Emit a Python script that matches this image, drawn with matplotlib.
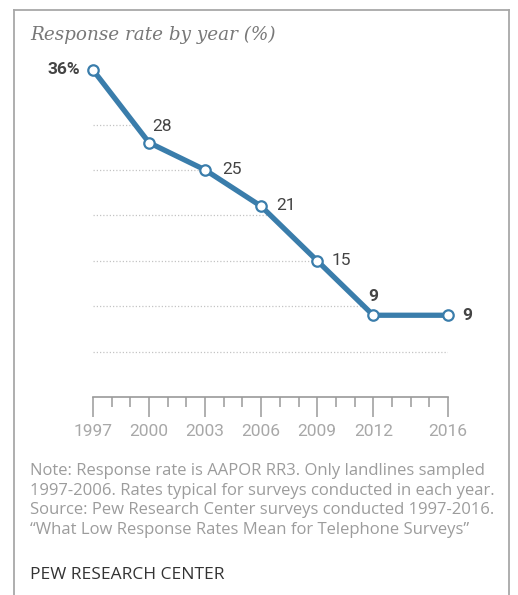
import matplotlib
matplotlib.use("Agg")
import matplotlib.pyplot as plt
from matplotlib.lines import Line2D
from matplotlib.ticker import MultipleLocator

years = [1997, 2000, 2003, 2006, 2009, 2012, 2016]
rates = [36, 28, 25, 21, 15, 9, 9]
labels = ["36%", "28", "25", "21", "15", "9", "9"]
major_ticks = [1997, 2000, 2003, 2006, 2009, 2012, 2016]
grid_levels = [30, 25, 20, 15, 10, 5]

title = "Response rate by year (%)"
note_lines = [
    "Note: Response rate is AAPOR RR3. Only landlines sampled",
    "1997-2006. Rates typical for surveys conducted in each year.",
    "Source: Pew Research Center surveys conducted 1997-2016.",
    "\u201cWhat Low Response Rates Mean for Telephone Surveys\u201d",
]
credit = "PEW RESEARCH CENTER"

W, H = 518, 595
fig = plt.figure(figsize=(W / 100, H / 100), dpi=100)
plt.rcParams['font.family'] = ['Roboto', 'DejaVu Sans']

line_color = '#3a7dab'

x0, x1 = 93, 448
y0, y1 = 397, 70
ax = fig.add_axes([x0 / W, 1 - y0 / H, (x1 - x0) / W, (y0 - y1) / H])
ax.set_xlim(1997, 2016)
ax.set_ylim(0, 36)

# gridlines
for g in grid_levels:
    ax.axhline(g, color='#c4c4c4', lw=0.9, ls=(0, (1, 1.6)), zorder=1)
# mask above the line
ax.fill_between(years, rates, 36, color='white', zorder=1.5, lw=0)

ax.plot(years, rates, color=line_color, lw=3.8, zorder=3, solid_capstyle='round',
        clip_on=False)
ax.plot(years, rates, ls='none', marker='o', ms=7.5, mfc='white', mec=line_color,
        mew=1.6, zorder=4, clip_on=False)

# spines and ticks
for s in ['top', 'right', 'left']:
    ax.spines[s].set_visible(False)
ax.spines['bottom'].set_color('#9a9a9a')
ax.spines['bottom'].set_linewidth(1.2)
ax.set_yticks([])
ax.set_xticks(major_ticks)
ax.set_xticklabels([str(t) for t in major_ticks])
ax.xaxis.set_minor_locator(MultipleLocator(1))
ax.tick_params(axis='x', which='major', direction='out', length=14.5, width=1.1,
               color='#9a9a9a', labelsize=12.5, labelcolor='#a8a8a8', pad=5)
ax.tick_params(axis='x', which='minor', direction='out', length=7.5, width=1.1,
               color='#9a9a9a')
ax.patch.set_visible(False)

# data labels (offsets in pixels)
offsets = [(-13, 0, 'right', 'center', 'bold'),
           (3, 16, 'left', 'center', 'normal'),
           (17, 0, 'left', 'center', 'normal'),
           (15, 1, 'left', 'center', 'normal'),
           (14, 0, 'left', 'center', 'normal'),
           (0, 19, 'center', 'center', 'bold'),
           (14, 0, 'left', 'center', 'bold')]
for xv, yv, lab, (dx, dy, ha, va, wt) in zip(years, rates, labels, offsets):
    ax.annotate(lab, (xv, yv), xytext=(dx, dy), textcoords='offset pixels',
                ha=ha, va=va, fontsize=12.5, color='#444444', fontweight=wt,
                zorder=5, annotation_clip=False)

# frame
fc = '#a8a8a8'
fig.add_artist(Line2D([14 / W, 14 / W], [0, 1 - 10 / H], transform=fig.transFigure,
                      color=fc, lw=1.3))
fig.add_artist(Line2D([14 / W, 509 / W], [1 - 10 / H, 1 - 10 / H],
                      transform=fig.transFigure, color=fc, lw=1.3))
fig.add_artist(Line2D([509 / W, 509 / W], [0, 1 - 10 / H], transform=fig.transFigure,
                      color=fc, lw=1.3))

# title
fig.text(30 / W, 1 - 35 / H, title, fontsize=13.2, style='italic',
         family=['DejaVu Serif'], color='#787878', ha='left', va='center')

# notes
for i, ln in enumerate(note_lines):
    fig.text(30 / W, 1 - (471 + 19.7 * i) / H, ln, fontsize=12, color='#9c9c9c',
             family=['Open Sans', 'DejaVu Sans'], ha='left', va='center')
fig.text(30 / W, 1 - 575 / H, credit, fontsize=12.5, color='#333333',
         family=['Open Sans', 'DejaVu Sans'], ha='left', va='center')

fig.savefig('out.png', dpi=100, facecolor='white')
